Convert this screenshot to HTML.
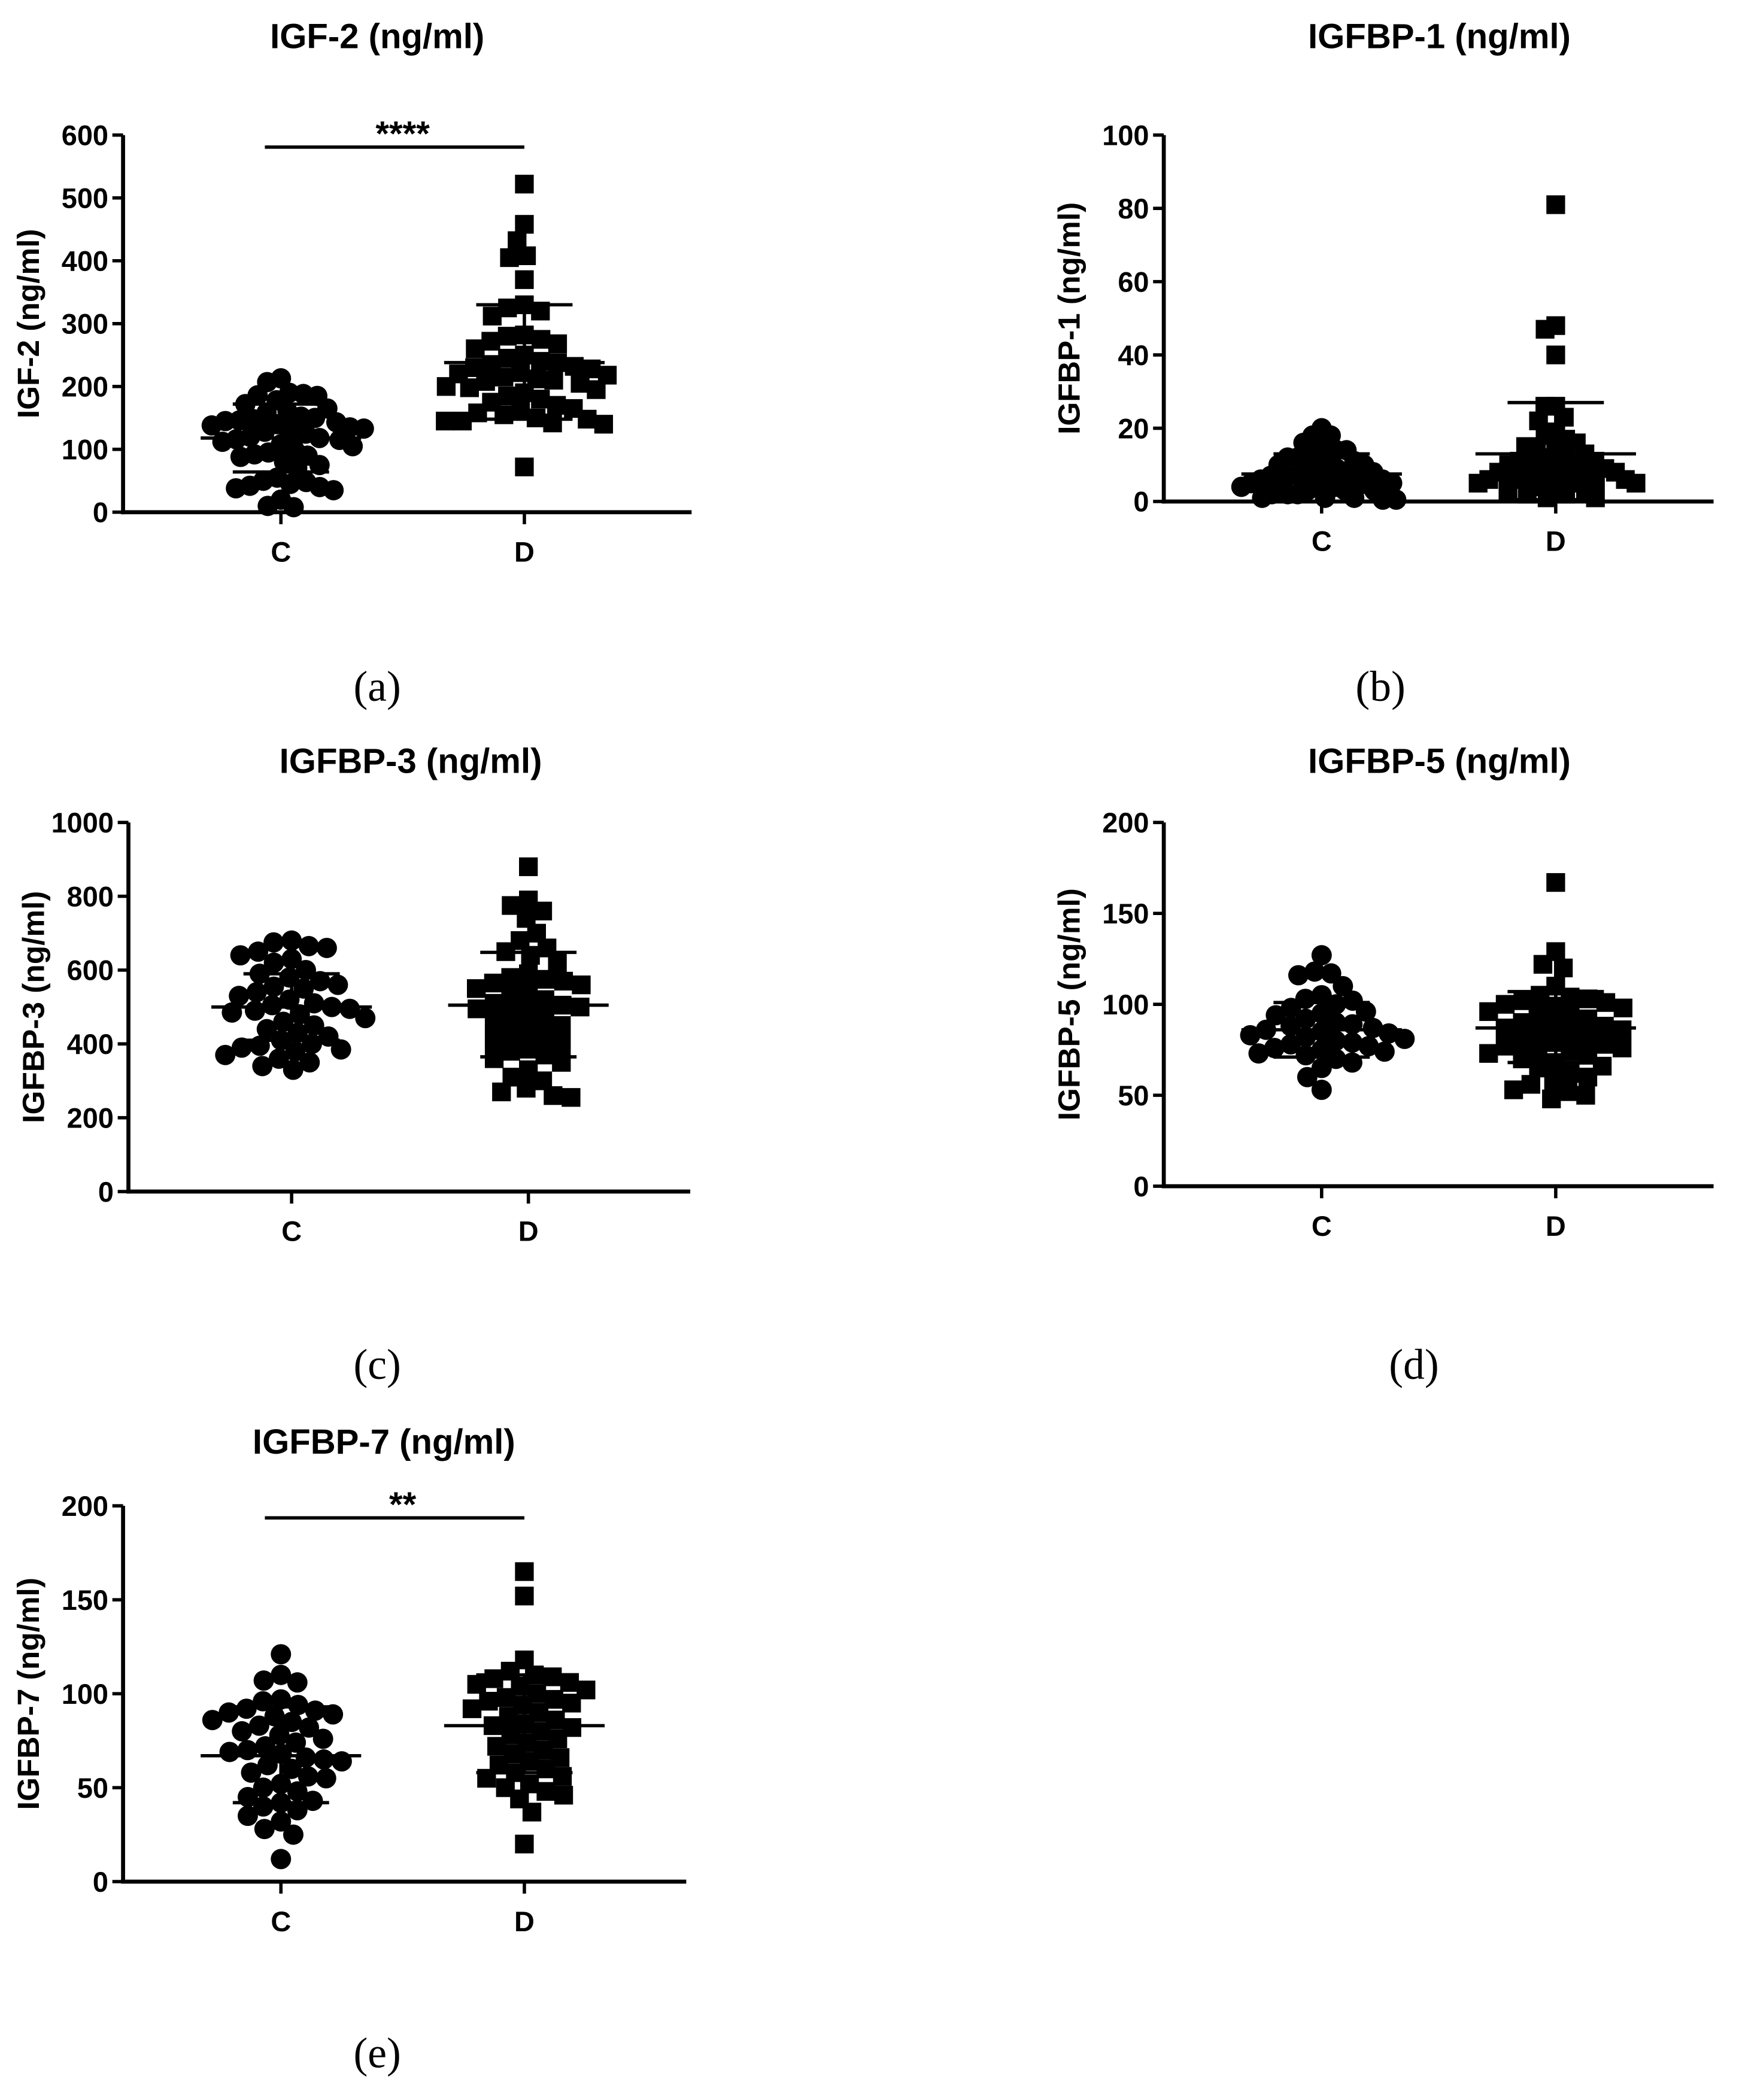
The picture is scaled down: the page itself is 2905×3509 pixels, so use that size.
<!DOCTYPE html>
<html><head><meta charset="utf-8"><style>
html,body{margin:0;padding:0;background:#fff;}
svg{display:block;}
text{font-family:"Liberation Sans",sans-serif;font-weight:bold;fill:#000;}
</style></head><body>
<svg id="fig" width="2905" height="3509" viewBox="0 0 1300 1570.3" xmlns="http://www.w3.org/2000/svg"></svg>
<script>
const groupNames = ["C","D"];
const igf2C = [213,207,190,188,186,185,178,172,165,160,158,152,150,148,146,145,143,140,138,135,133,130,128,125,120,118,116,115,112,108,105,100,95,92,90,88,80,75,70,55,50,48,45,42,40,38,35,20,10,8];
const igf2D = [522,458,432,408,405,370,330,325,320,312,282,280,275,272,268,260,250,245,240,238,235,232,230,228,222,220,218,215,212,210,208,205,200,198,195,190,185,180,175,170,165,162,158,155,150,148,145,145,142,140,72];
const igf2Stats = [[118,172,64],[238,330,148]];
const bp1C = [20,18,18,16,15,14,14,13,12,12,11,11,10,10,9,9,8,8,8,7,7,7,6,6,6,6,5,5,5,5,4,4,4,3,3,3,2,2,2,1,1,1,0.5,0.5];
const bp1D = [81,48,47,40,26,26,23,22,19,18,17,16,15,15,14,13,12,12,11,11,10,10,10,9,9,8,8,8,7,7,7,6,6,6,6,5,5,5,4,4,3,3,2,2,1,1];
const bp1Stats = [[7.5,13,2.5],[13,27,0.5]];
const bp3C = [680,675,665,660,650,640,630,620,600,590,580,570,560,555,550,540,530,520,510,505,500,495,490,485,480,470,460,450,440,430,420,410,400,395,390,385,380,370,360,350,340,330];
const bp3D = [880,790,775,760,740,700,680,660,650,640,620,590,580,575,570,565,560,550,540,530,520,510,505,500,495,490,480,470,460,450,440,430,420,410,400,390,380,370,360,350,330,310,300,280,270,260,255];
const bp3Stats = [[500,590,410],[505,648,365]];
const bp5C = [127,118,117,116,110,105,103,102,100,98,96,95,94,92,90,89,88,87,86,85,84,83,82,81,80,79,78,77,76,75,74,73,72,70,68,65,60,53];
const bp5D = [167,129,122,120,110,105,104,103,102,101,100,99,98,96,95,94,92,90,89,88,87,86,85,84,82,80,79,78,77,76,75,74,73,72,70,68,66,65,62,60,58,56,53,52,50,48];
const bp5Stats = [[86,101,71],[87,107,68]];
const bp7C = [121,110,107,106,97,96,94,92,91,90,89,88,86,85,83,82,80,78,76,74,72,70,69,68,66,65,64,62,60,58,56,55,52,50,48,45,43,42,40,38,35,32,28,25,12];
const bp7D = [165,152,118,112,110,109,108,106,105,104,102,100,98,97,96,95,94,92,90,88,86,84,83,82,80,78,76,74,72,70,68,66,64,62,60,58,56,55,52,50,48,46,44,37,20];
const bp7Stats = [[67,93,42],[83,110,58]];
const igf2Ticks = [0,100,200,300,400,500,600];
const bp1Ticks = [0,20,40,60,80,100];
const bp3Ticks = [0,200,400,600,800,1000];
const bp5Ticks = [0,50,100,150,200];
const bp7Ticks = [0,50,100,150,200];

const NS="http://www.w3.org/2000/svg";
const svg=document.getElementById('fig');
function mk(tag,attrs,parent){const e=document.createElementNS(NS,tag);for(const k in attrs)e.setAttribute(k,attrs[k]);(parent||svg).appendChild(e);return e;}
function swarm(vals,yf,d,maxW){const placed=[];const out=[];
 const order=vals.map((v,i)=>i).sort((a,b)=>vals[b]-vals[a]);
 for(const i of order){const y=yf(vals[i]);const cands=[0];
  for(const p of placed){const dy=Math.abs(p.y-y);if(dy<d){const dx=Math.sqrt(d*d-dy*dy)+0.01;cands.push(p.x+dx,p.x-dx);}}
  cands.sort((a,b)=>Math.abs(a)-Math.abs(b)||a-b);
  let best=0;for(const c of cands){let ok=true;for(const p of placed){if((p.x-c)**2+(p.y-y)**2<d*d-0.1){ok=false;break;}}if(ok){best=c;break;}}
  placed.push({x:best,y});out[i]={x:best,y};}
 let mx=0;out.forEach(p=>mx=Math.max(mx,Math.abs(p.x)));
 if(mx>maxW){const s=maxW/mx;out.forEach(p=>p.x*=s);}
 return out;}

function panel(o){
 const g=mk('g',{});
 
 
 const y=v=>o.y0-(v/o.max)*(o.y0-o.yTop);
 const t=mk('text',{x:o.tx,y:o.ty,'font-size':26,'text-anchor':'middle'},g);t.textContent=o.title;
 
 const ya=mk('line',{x1:o.ax,y1:o.yTop,x2:o.ax,y2:o.y0+1.5,stroke:'#000','stroke-width':3},g);
 
 const xa=mk('line',{x1:o.ax-1.5,y1:o.y0,x2:o.xEnd,y2:o.y0,stroke:'#000','stroke-width':3},g);
 
 for(const tv of o.ticks){const yy=y(tv);
  mk('line',{x1:o.ax-8,y1:yy,x2:o.ax,y2:yy,stroke:'#000','stroke-width':2.5},g);
  const tl=mk('text',{x:o.ax-11,y:yy+7.5,'font-size':21,'text-anchor':'end'},g);tl.textContent=tv;
  }
 const yt=mk('text',{x:0,y:0,'font-size':23,'text-anchor':'middle',transform:`translate(${o.ax-63},${(o.y0+o.yTop)/2}) rotate(-90)`},g);
 yt.textContent=o.title;
 const series=[o.c,o.d];
 o.gx.forEach((gx,k)=>{
  mk('line',{x1:gx,y1:o.y0,x2:gx,y2:o.y0+9,stroke:'#000','stroke-width':2.5},g);
  const xl=mk('text',{x:gx,y:o.y0+37,'font-size':21,'text-anchor':'middle'},g);xl.textContent=groupNames[k];
  
  const pts=swarm(series[k],y,13.5,o.maxW||62);
  pts.forEach(p=>{let m;
   if(k==0)m=mk('circle',{cx:gx+p.x,cy:p.y,r:7.6,fill:'#000'},g);
   else m=mk('rect',{x:gx+p.x-7,y:p.y-7,width:14,height:14,fill:'#000'},g);
   
   });
  const s=o.stats[k];
  mk('line',{x1:gx-60,y1:y(s[0]),x2:gx+60,y2:y(s[0]),stroke:'#000','stroke-width':2.5},g);
  mk('line',{x1:gx-36,y1:y(s[1]),x2:gx+36,y2:y(s[1]),stroke:'#000','stroke-width':2.5},g);
  mk('line',{x1:gx-36,y1:y(s[2]),x2:gx+36,y2:y(s[2]),stroke:'#000','stroke-width':2.5},g);
  mk('line',{x1:gx,y1:y(s[1]),x2:gx,y2:y(s[2]),stroke:'#000','stroke-width':2.5},g);
 });
 if(o.sig){const sy=o.yTop+9;
  const sl=mk('line',{x1:o.gx[0]-12,y1:sy,x2:o.gx[1],y2:sy,stroke:'#000','stroke-width':2.5},g);
  
  const st=mk('text',{x:(o.gx[0]+o.gx[1])/2,y:sy-1,'font-size':26,'text-anchor':'middle'},g);st.textContent=o.sig;
  }
 const lab=mk('text',{x:o.lx,y:o.ly,'font-size':32,'text-anchor':'middle'},g);
 lab.setAttribute('style','font-family:"Liberation Serif",serif;font-weight:normal');
 lab.textContent=o.label;
}
panel({name:'panel-a-igf2',title:'IGF-2 (ng/ml)',tx:282,ty:36,ax:92,yTop:101,y0:383,xEnd:517,max:600,ticks:igf2Ticks,gx:[210,392],c:igf2C,d:igf2D,stats:igf2Stats,sig:'****',lx:282,ly:524,label:'(a)'});
panel({name:'panel-b-igfbp1',title:'IGFBP-1 (ng/ml)',tx:1076,ty:36,ax:870,yTop:101,y0:375,xEnd:1281,max:100,ticks:bp1Ticks,gx:[988,1163],c:bp1C,d:bp1D,stats:bp1Stats,maxW:60,lx:1032,ly:524,label:'(b)'});
panel({name:'panel-c-igfbp3',title:'IGFBP-3 (ng/ml)',tx:307,ty:578,ax:96,yTop:615,y0:891,xEnd:516,max:1000,ticks:bp3Ticks,gx:[218,395],c:bp3C,d:bp3D,stats:bp3Stats,lx:282,ly:1031,label:'(c)'});
panel({name:'panel-d-igfbp5',title:'IGFBP-5 (ng/ml)',tx:1076,ty:578,ax:870,yTop:615,y0:887,xEnd:1281,max:200,ticks:bp5Ticks,gx:[988,1163],c:bp5C,d:bp5D,stats:bp5Stats,lx:1057,ly:1031,label:'(d)'});
panel({name:'panel-e-igfbp7',title:'IGFBP-7 (ng/ml)',tx:287,ty:1087,ax:92,yTop:1126,y0:1407,xEnd:513,max:200,ticks:bp7Ticks,gx:[210,392],c:bp7C,d:bp7D,stats:bp7Stats,sig:'**',lx:282,ly:1546,label:'(e)'});
</script>
</body></html>
